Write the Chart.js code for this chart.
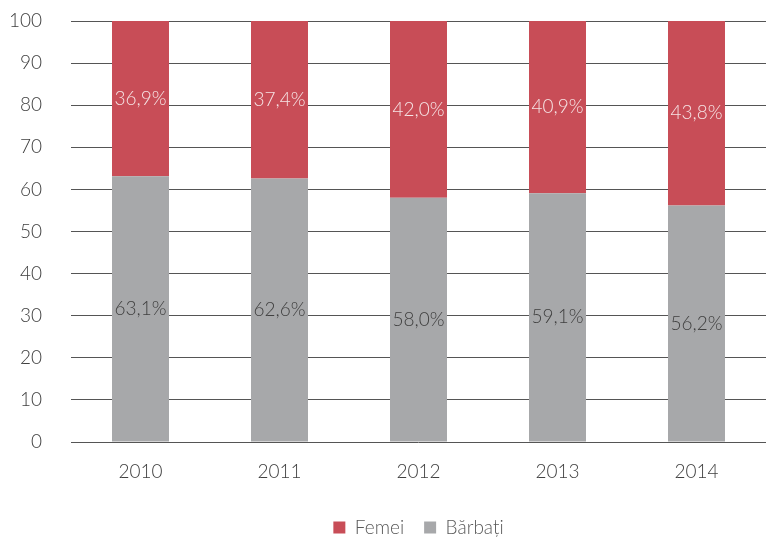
<!DOCTYPE html>
<html>
<head>
<meta charset="utf-8">
<script src="https://cdn.jsdelivr.net/npm/chart.js@4.4.1/dist/chart.umd.min.js"></script>
<style>
  html, body { margin: 0; padding: 0; background: #fff; }
  #wrap { width: 766px; height: 537px; }
</style>
</head>
<body>
<div id="wrap"><canvas id="chart"></canvas></div>
<script>
const years = ["2010", "2011", "2012", "2013", "2014"];
const barbati = [63.1, 62.6, 58.0, 59.1, 56.2];
const femei = [36.9, 37.4, 42.0, 40.9, 43.8];

const RED = "#C84D57";
const GREY = "#A7A8AA";
const FONT = { family: "Lato", size: 19, weight: 300 };

// draws the percentage inside each bar segment
const valueLabels = {
  id: "valueLabels",
  afterDatasetsDraw(chart) {
    const ctx = chart.ctx;
    ctx.save();
    ctx.font = "300 19px Lato";
    ctx.textAlign = "center";
    ctx.textBaseline = "middle";
    chart.data.datasets.forEach((ds, i) => {
      const meta = chart.getDatasetMeta(i);
      meta.data.forEach((bar, j) => {
        const mid = (bar.y + bar.base) / 2;
        ctx.fillStyle = ds.labelColor;
        ctx.fillText(ds.data[j].toFixed(1).replace(".", ",") + "%", bar.x, mid);
      });
    });
    ctx.restore();
  },
};

const chart = new Chart("chart", {
  type: "bar",
  data: {
    labels: years,
    datasets: [
      { label: "Bărbați", data: barbati, backgroundColor: GREY, labelColor: "#404040" },
      { label: "Femei", data: femei, backgroundColor: RED, labelColor: "#F6E4E5" },
    ],
  },
  options: {
    responsive: true,
    maintainAspectRatio: false,
    animation: false,
    devicePixelRatio: 1,
    categoryPercentage: 1,
    barPercentage: 0.41,
    layout: { padding: { top: 21, right: 0, left: 0, bottom: -10 } },
    plugins: {
      tooltip: { enabled: false },
      legend: {
        position: "bottom",
        fullSize: false,
        reverse: true,
        labels: {
          boxWidth: 12,
          boxHeight: 12,
          padding: 20,
          color: "#595959",
          font: FONT,
        },
      },
    },
    scales: {
      x: {
        stacked: true,
        grid: { display: false, drawTicks: false },
        border: { display: false },
        ticks: { color: "#404040", padding: 18, font: FONT },
        afterFit(scale) { scale.height = 56; },
      },
      y: {
        stacked: true,
        min: 0,
        max: 100,
        grid: { color: "#555", drawTicks: false },
        border: { display: false },
        ticks: { stepSize: 10, color: "#404040", padding: 29, font: FONT },
        afterFit(scale) {
          scale.width = 71;
          scale.paddingTop = 0;
          scale.paddingBottom = 0;
        },
      },
    },
  },
  plugins: [valueLabels],
});
</script>
</body>
</html>
